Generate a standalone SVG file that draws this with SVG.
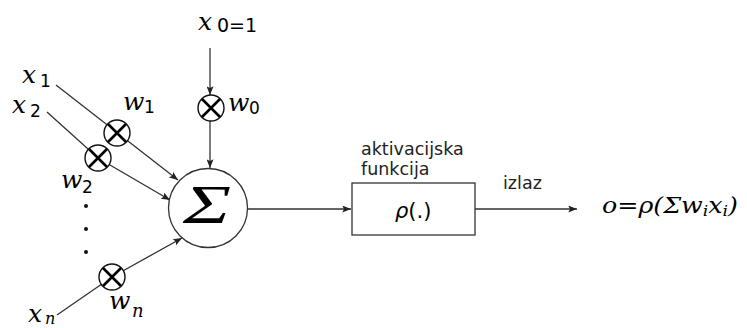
<svg xmlns="http://www.w3.org/2000/svg" width="747" height="328" viewBox="0 0 747 328">
<defs>
<style>
.ln{stroke:#333;stroke-width:1.3;fill:none}
.mul{stroke:#111;stroke-width:1.4;fill:#fff}
.xm{stroke:#000;stroke-width:2.6;stroke-linecap:butt}
.mi{font-family:"DejaVu Serif",serif;font-style:italic;fill:#000}
.sub{font-family:"DejaVu Sans",sans-serif;fill:#000}
.lbl{font-family:"DejaVu Sans",sans-serif;font-size:17.5px;fill:#222}
</style>
<marker id="ah" viewBox="0 0 10 8" refX="10" refY="4" markerWidth="9" markerHeight="7" markerUnits="userSpaceOnUse" orient="auto">
<path d="M0,0 L10,4 L0,8 L2,4 z" fill="#222"/>
</marker>
</defs>
<g id="connectors">
<path class="ln" d="M210,48 L210,95" marker-end="url(#ah)"/>
<path class="ln" d="M210,121 L210,168" marker-end="url(#ah)"/>
<path class="ln" d="M56,85 L178,180" marker-end="url(#ah)"/>
<path class="ln" d="M47,112 L98,158 L170,200" marker-end="url(#ah)"/>
<path class="ln" d="M57,315 L112,277 L182,238" marker-end="url(#ah)"/>
<path class="ln" d="M247,209 L351,209" marker-end="url(#ah)"/>
<path class="ln" d="M475,209 L577,209" marker-end="url(#ah)"/>
</g>
<g id="mul0"><circle class="mul" cx="211" cy="108" r="13"/><path class="xm" d="M202,99 L220,117 M220,99 L202,117"/></g>
<g id="mul1"><circle class="mul" cx="117" cy="133" r="13"/><path class="xm" d="M108,124 L126,142 M126,124 L108,142"/></g>
<g id="mul2"><circle class="mul" cx="98" cy="158" r="13"/><path class="xm" d="M89,149 L107,167 M107,149 L89,167"/></g>
<g id="muln"><circle class="mul" cx="112" cy="277" r="13"/><path class="xm" d="M103,268 L121,286 M121,268 L103,286"/></g>
<g id="sum">
<circle cx="208" cy="208" r="39.5" fill="#fff" stroke="#333" stroke-width="1.3"/>
<text x="183" y="223" font-family="Liberation Serif,serif" font-style="italic" font-size="54" textLength="48" lengthAdjust="spacingAndGlyphs">Σ</text>
</g>
<g id="activation">
<rect x="352" y="183" width="123" height="52" fill="#fff" stroke="#333" stroke-width="1.3"/>
<text x="395" y="218" font-family="DejaVu Sans,sans-serif" font-size="21" fill="#000"><tspan font-style="italic">ρ</tspan>(.)</text>
</g>
<g id="labels">
<text class="lbl" x="361" y="155">aktivacijska</text>
<text class="lbl" x="361" y="175">funkcija</text>
<text class="lbl" x="503" y="189">izlaz</text>
<text class="mi" x="198" y="30" font-size="25">x</text><text class="sub" x="217" y="32" font-size="19">0=1</text>
<text class="mi" x="228" y="111" font-size="25">w</text><text class="sub" x="249" y="114" font-size="17">0</text>
<text class="mi" x="22" y="83" font-size="25">x</text><text class="sub" x="40" y="87" font-size="17">1</text>
<text class="mi" x="12" y="113" font-size="25">x</text><text class="sub" x="30" y="117" font-size="17">2</text>
<text class="mi" x="123" y="110" font-size="25">w</text><text class="sub" x="144" y="113" font-size="17">1</text>
<text class="mi" x="61" y="188" font-size="25">w</text><text class="sub" x="82" y="193" font-size="17">2</text>
<text class="mi" x="109" y="309" font-size="25">w</text><text class="mi" x="132" y="317" font-size="18">n</text>
<text class="mi" x="28" y="322" font-size="25">x</text><text class="mi" x="45" y="324" font-size="16">n</text>
<circle cx="86" cy="206" r="2" fill="#111"/>
<circle cx="86" cy="229" r="2" fill="#111"/>
<circle cx="86" cy="252" r="2" fill="#111"/>
<text class="mi" x="602" y="213" font-size="22" textLength="136" lengthAdjust="spacingAndGlyphs">o=ρ(Σw<tspan font-size="15" dy="3">i</tspan><tspan dy="-3">x</tspan><tspan font-size="15" dy="3">i</tspan><tspan dy="-3">)</tspan></text>
</g>
</svg>
